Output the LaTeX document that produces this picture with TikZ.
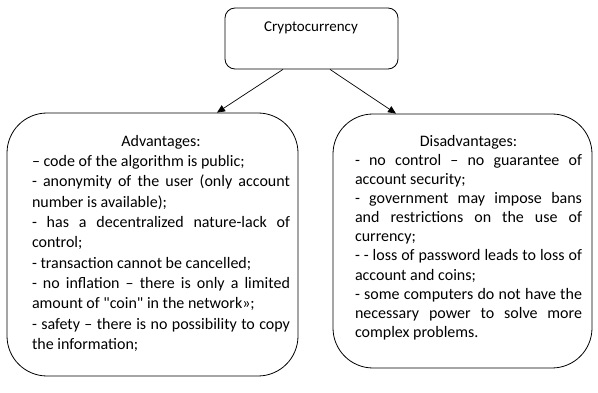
\documentclass[tikz,border=0pt]{standalone}
\usepackage{fontspec}
\setmainfont{Carlito}[Ligatures=TeXOff]
\usetikzlibrary{arrows.meta,calc}
\tikzset{
  rbox/.style={draw, line width=0.8pt, rounded corners=#1, inner sep=0pt},
  bodytext/.style={inner sep=0pt, anchor=north, align=justify, text width=#1},
  arr/.style={line width=0.7pt, -{Triangle[length=8pt,width=7pt]}}
}
\begin{document}
\begin{tikzpicture}[x=1pt,y=-1pt]
\useasboundingbox (0,0) rectangle (598,393);
\hyphenpenalty=10000 \exhyphenpenalty=10000 \emergencystretch=20pt
% top box
\node[rbox=10pt, minimum width=173pt, minimum height=61pt] (top) at (311.5,38.5) {};
\node[inner sep=0pt, font=\fontsize{15}{18}\selectfont] (toptitle) at (311,28) {Cryptocurrency};
% big boxes
\node[rbox=40pt, minimum width=291pt, minimum height=263pt] (adv) at (152.5,244.5) {};
\node[rbox=40pt, minimum width=259pt, minimum height=254pt] (dis) at (462.5,241) {};
% texts
\node[bodytext=258pt, font=\fontsize{16}{20.3}\selectfont] (advtext) at (161,135) {%
{\centering Advantages:\par}
– code of the algorithm is public;\par
- anonymity of the user (only account\linebreak number is available);\par
- has a decentralized nature-lack of\linebreak control;\par
- transaction cannot be cancelled;\par
- no inflation – there is only a limited\linebreak amount of "coin" in the network»;\par
- safety – there is no possibility to copy\linebreak the information;};
\node[bodytext=227pt, font=\fontsize{16}{19.1}\selectfont] (distext) at (468.5,135) {%
{\centering Disadvantages:\par}
- no control – no guarantee of\linebreak account security;\par
- government may impose bans\linebreak and restrictions on the use of\linebreak currency;\par
- - loss of password leads to loss of\linebreak account and coins;\par
- some computers do not have the\linebreak necessary power to solve more\linebreak complex problems.};
% arrows
\draw[arr] ($(top.south)+(-28.5,0)$) -- ($(adv.north)+(64.5,0)$);
\draw[arr] ($(top.south)+(18.5,0)$) -- ($(dis.north)+(-66.5,0)$);
\end{tikzpicture}
\end{document}
